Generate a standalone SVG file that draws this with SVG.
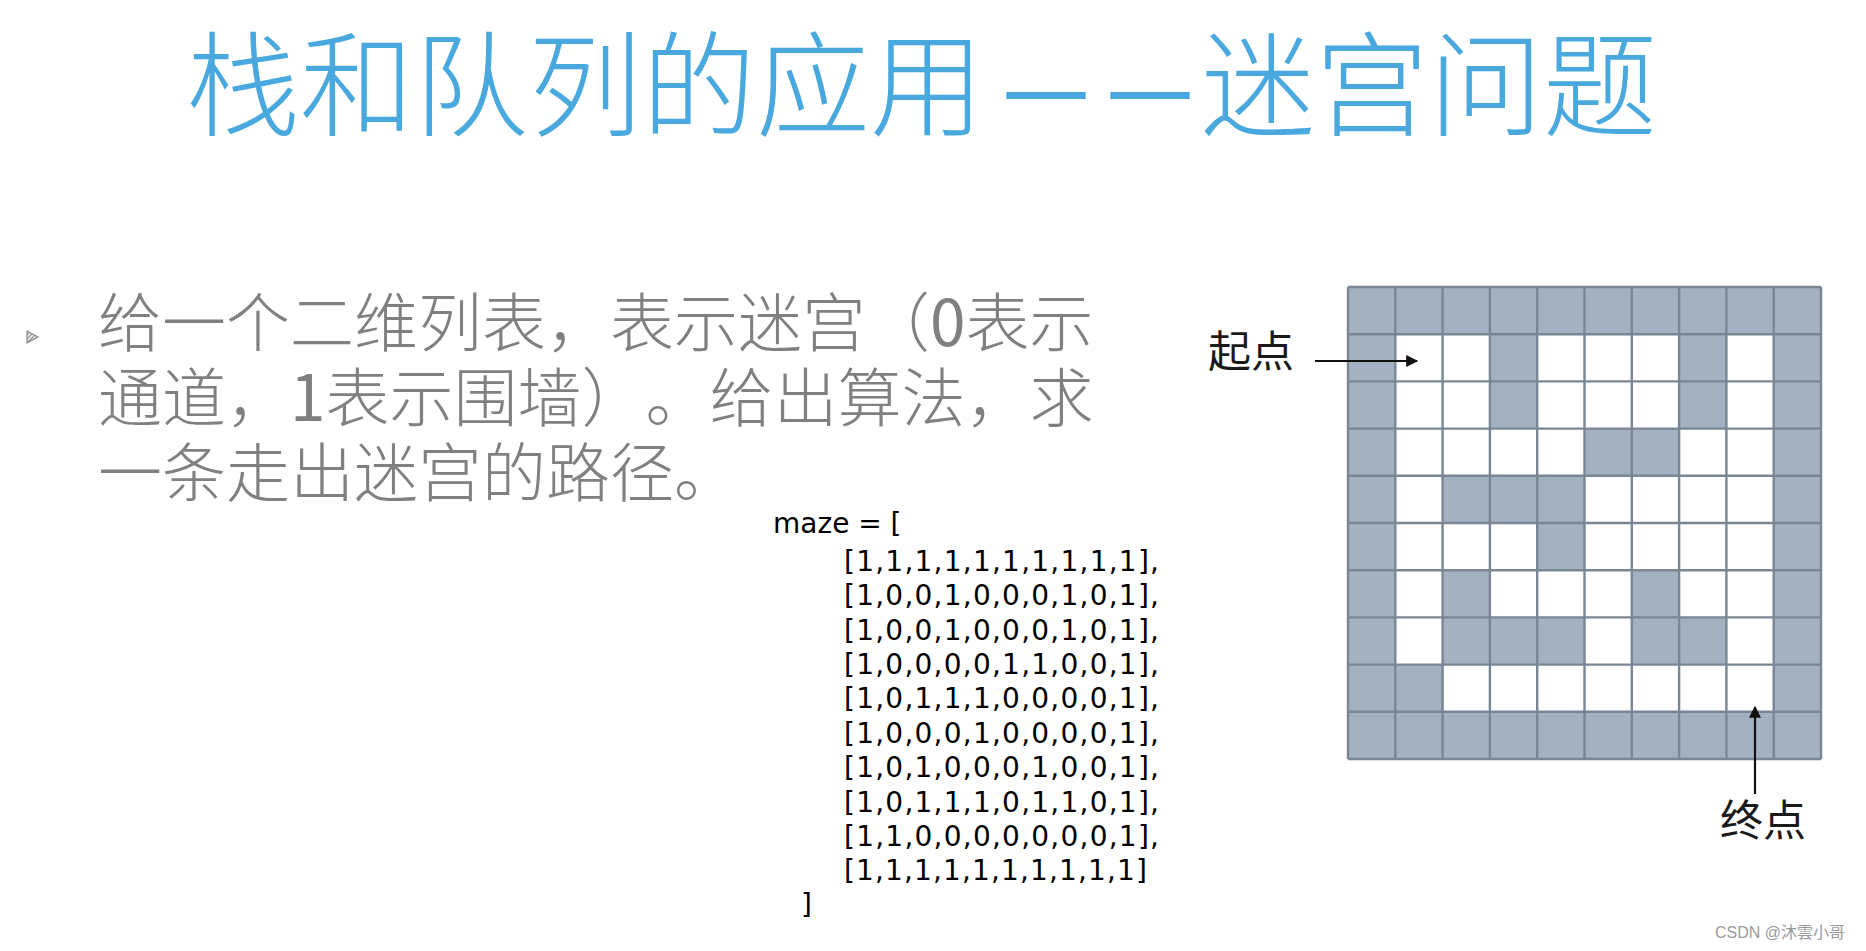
<svg xmlns="http://www.w3.org/2000/svg" width="1866" height="951" viewBox="0 0 1866 951">
<defs>
<style>
.title{font-family:"Noto Sans CJK SC","Noto Sans CJK JP",sans-serif;font-size:114px;fill:#49a9df;font-weight:300}
.dash{font-family:"DejaVu Sans",sans-serif;font-size:100px;font-weight:400}
.body{font-family:"Noto Sans CJK SC",sans-serif;font-size:64px;fill:#808080;font-weight:300;text-spacing-trim:space-all}
.digit{font-weight:400}
.code{font-family:"DejaVu Sans",Verdana,sans-serif;font-size:28px;fill:#000}
.lbl{font-family:"Noto Sans CJK SC",sans-serif;font-size:43px;fill:#1a1a1a}
.wm{font-family:"Liberation Sans","Noto Sans CJK SC",sans-serif;font-size:16px;fill:#9a9a9a}
.wall{fill:#a3b1c0}
.open{fill:#ffffff}
.gridline{fill:none;stroke:#7a8693;stroke-width:2.4}
.arrow{stroke:#111;stroke-width:2.2;fill:none}
</style>
<marker id="ah" viewBox="0 0 10 10" refX="9" refY="5" markerWidth="14" markerHeight="12" markerUnits="userSpaceOnUse" orient="auto">
<path d="M0,0 L10,5 L0,10 Z" fill="#111"/>
</marker>
<pattern id="hatch" width="3" height="3" patternUnits="userSpaceOnUse" patternTransform="rotate(45)">
<rect width="3" height="3" fill="#fff"/>
<rect width="1.4" height="3" fill="#8a8a8a"/>
</pattern>
</defs>
<rect width="1866" height="951" fill="#fff"/>

<g id="title">
<text class="title" y="127"><tspan x="186">栈和队列的应用</tspan><tspan class="dash" x="1002" y="123" textLength="88" lengthAdjust="spacingAndGlyphs">—</tspan><tspan class="dash" x="1106" y="123" textLength="88" lengthAdjust="spacingAndGlyphs">—</tspan><tspan x="1201" y="127">迷宫问题</tspan></text>
</g>

<g id="description">
<polygon points="27,331 38,337 27,343" fill="url(#hatch)" stroke="#8a8a8a" stroke-width="1.2"/>
<text class="body" x="98" y="346">给一个二维列表，表示迷宫（<tspan class="digit">0</tspan>表示</text>
<text class="body" x="98" y="421">通道，<tspan class="digit">1</tspan>表示围墙）。给出算法，求</text>
<text class="body" x="98" y="496">一条走出迷宫的路径。</text>
</g>

<g id="code">
<text class="code" x="773" y="533">maze = [</text>
<text class="code" x="844" y="571" textLength="315" lengthAdjust="spacing">[1,1,1,1,1,1,1,1,1,1],</text>
<text class="code" x="844" y="605.4" textLength="315" lengthAdjust="spacing">[1,0,0,1,0,0,0,1,0,1],</text>
<text class="code" x="844" y="639.7" textLength="315" lengthAdjust="spacing">[1,0,0,1,0,0,0,1,0,1],</text>
<text class="code" x="844" y="674.1" textLength="315" lengthAdjust="spacing">[1,0,0,0,0,1,1,0,0,1],</text>
<text class="code" x="844" y="708.4" textLength="315" lengthAdjust="spacing">[1,0,1,1,1,0,0,0,0,1],</text>
<text class="code" x="844" y="742.8" textLength="315" lengthAdjust="spacing">[1,0,0,0,1,0,0,0,0,1],</text>
<text class="code" x="844" y="777.1" textLength="315" lengthAdjust="spacing">[1,0,1,0,0,0,1,0,0,1],</text>
<text class="code" x="844" y="811.5" textLength="315" lengthAdjust="spacing">[1,0,1,1,1,0,1,1,0,1],</text>
<text class="code" x="844" y="845.8" textLength="315" lengthAdjust="spacing">[1,1,0,0,0,0,0,0,0,1],</text>
<text class="code" x="844" y="880.2" textLength="303" lengthAdjust="spacing">[1,1,1,1,1,1,1,1,1,1]</text>
<text class="code" x="801" y="914">]</text>
</g>

<g id="maze-grid">
<rect class="wall" x="1348" y="287" width="473" height="472"/>
<g transform="translate(1348,287) scale(47.3,47.2)">
<rect class="open" x="1" y="1" width="2" height="2"/>
<rect class="open" x="4" y="1" width="3" height="2"/>
<rect class="open" x="8" y="1" width="1" height="6"/>
<rect class="open" x="1" y="3" width="4" height="1"/>
<rect class="open" x="7" y="3" width="1" height="3"/>
<rect class="open" x="1" y="4" width="1" height="4"/>
<rect class="open" x="5" y="4" width="2" height="2"/>
<rect class="open" x="2" y="5" width="2" height="1"/>
<rect class="open" x="3" y="6" width="3" height="1"/>
<rect class="open" x="7" y="6" width="1" height="1"/>
<rect class="open" x="5" y="7" width="1" height="1"/>
<rect class="open" x="8" y="7" width="1" height="1"/>
<rect class="open" x="2" y="8" width="7" height="1"/>
</g>
<path class="gridline" d="M1348,287V759M1395.3,287V759M1442.6,287V759M1489.9,287V759M1537.2,287V759M1584.5,287V759M1631.8,287V759M1679.1,287V759M1726.4,287V759M1773.7,287V759M1821,287V759M1348,287H1821M1348,334.2H1821M1348,381.4H1821M1348,428.6H1821M1348,475.8H1821M1348,523H1821M1348,570.2H1821M1348,617.4H1821M1348,664.6H1821M1348,711.8H1821M1348,759H1821"/>
</g>

<g id="start-label">
<text class="lbl" x="1208" y="367">起点</text>
</g>
<g id="end-label">
<text class="lbl" x="1720" y="836">终点</text>
</g>

<g id="connectors">
<line class="arrow" x1="1315" y1="361" x2="1417" y2="361" marker-end="url(#ah)"/>
<line class="arrow" x1="1755" y1="794" x2="1755" y2="707" marker-end="url(#ah)"/>
</g>

<g id="watermark">
<text class="wm" x="1715" y="938">CSDN @沐雲小哥</text>
</g>
</svg>
